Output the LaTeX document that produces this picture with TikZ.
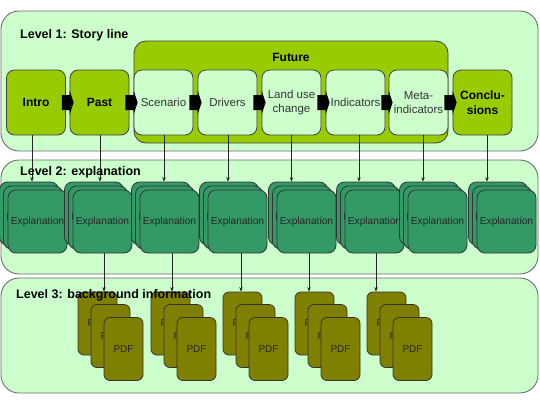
\documentclass[tikz,border=0pt]{standalone}
\usepackage{fontspec}
\setmainfont{Liberation Sans}
\usetikzlibrary{calc,arrows.meta}
\definecolor{lightg}{HTML}{CCFFCC}
\definecolor{limeg}{HTML}{99CC00}
\definecolor{seag}{HTML}{339966}
\definecolor{olivebox}{HTML}{808000}
\definecolor{framegray}{HTML}{6E6E6E}
\newcommand{\blockarr}[2]{\fill[black] ($(#1.east)+(-4,-7.5)$) -- ($(#2.west)+(0,-7.5)$) -- ($(#2.west)+(0,-12)$) -- ($(#2.west)+(4,0)$) -- ($(#2.west)+(0,12)$) -- ($(#2.west)+(0,7.5)$) -- ($(#1.east)+(-4,7.5)$) -- cycle;}
\begin{document}
\begin{tikzpicture}[x=1pt,y=-1pt,
  levelbox/.style={draw=framegray, line width=0.9pt, fill=lightg, rounded corners=18pt, inner sep=0pt},
  futurebox/.style={draw=black!75, line width=0.8pt, fill=limeg, rounded corners=12pt, inner sep=0pt},
  storybox/.style={draw=black!75, line width=0.8pt, rounded corners=8pt, inner sep=0pt, minimum width=59pt, minimum height=65pt, align=center, font=\fontsize{11.5}{14}\selectfont},
  darkstory/.style={storybox, fill=limeg, font=\bfseries\fontsize{12}{15}\selectfont, text=black},
  lightstory/.style={storybox, fill=lightg, text=black!80},
  expl/.style={draw=black!80, line width=0.8pt, fill=seag, rounded corners=8pt, inner sep=0pt, minimum width=59pt, minimum height=63pt, font=\fontsize{10.2}{12}\selectfont, text=black!85},
  pdfbox/.style={draw=black!80, line width=0.8pt, fill=olivebox, rounded corners=6pt, inner sep=0pt, minimum width=39pt, minimum height=63pt, font=\fontsize{10}{12}\selectfont, text=black!85},
  conn/.style={draw=black!85, line width=0.6pt, -{Stealth[length=4.5pt,width=3.5pt]}},
  lvllabel/.style={anchor=west, inner sep=0pt, font=\bfseries\fontsize{12.5}{14}\selectfont}
]
\useasboundingbox (0,0) rectangle (540,405);
\fill[white] (0,0) rectangle (540,405);

% level frames
\node[levelbox, minimum width=537pt, minimum height=140pt] (lvl1) at (269.5,81) {};
\node[levelbox, minimum width=537pt, minimum height=114pt] (lvl2) at (269.5,217) {};
\node[levelbox, minimum width=537pt, minimum height=115pt] (lvl3) at (269.5,335.5) {};

% future frame
\node[futurebox, minimum width=314pt, minimum height=102pt] (future) at (291,92) {};
\node[inner sep=0pt, font=\bfseries\fontsize{12}{14}\selectfont] (futurelbl) at (291,57) {Future};

% story line boxes
\node[darkstory] (intro) at (36,102.5) {Intro};
\node[darkstory] (past) at (99.5,102.5) {Past};
\node[lightstory] (scen) at (163.5,102.5) {Scenario};
\node[lightstory] (drv) at (227.5,102.5) {Drivers};
\node[lightstory] (land) at (291.5,102.5) {Land use\\change};
\node[lightstory] (ind) at (355.5,102.5) {Indicators};
\node[lightstory] (meta) at (418.5,102.5) {Meta-\\indicators};
\node[darkstory] (concl) at (482.5,102.5) {Conclu-\\sions};

\blockarr{intro}{past}
\blockarr{past}{scen}
\blockarr{scen}{drv}
\blockarr{drv}{land}
\blockarr{land}{ind}
\blockarr{ind}{meta}
\blockarr{meta}{concl}

% explanation stacks
\foreach \L [count=\i] in {8,73,140,208,277,345,408,477} {
  \node[expl] (e\i-c) at (\L+21,213.5) {Explanation};
  \node[expl] (e\i-b) at (\L+25,217.5) {Explanation};
  \node[expl] (e\i-a) at (\L+29.5,221.5) {Explanation};
}

% level 1 -> level 2
\draw[conn] ([xshift=-4pt]intro.south) -- ([xshift=-4pt]intro.south |- e1-c.north);
\draw[conn] ([xshift=0.5pt]past.south) -- ([xshift=0.5pt]past.south |- e2-c.north);
\draw[conn] ([xshift=0.5pt]scen.south) -- ([xshift=0.5pt]scen.south |- e3-c.north);
\draw[conn] ([xshift=0.5pt]drv.south) -- ([xshift=0.5pt]drv.south |- e4-c.north);
\draw[conn] (land.south) -- (land.south |- e5-c.north);
\draw[conn] ([xshift=3.5pt]ind.south) -- ([xshift=3.5pt]ind.south |- e6-c.north);
\draw[conn] ([xshift=4.5pt]meta.south) -- ([xshift=4.5pt]meta.south |- e7-c.north);
\draw[conn] ([xshift=4.5pt]concl.south) -- ([xshift=4.5pt]concl.south |- e8-c.north);

% PDF stacks
\foreach \X [count=\j] in {78,151,223,295,367} {
  \node[pdfbox] (p\j-c) at (\X+19.5,323.5) {PDF};
  \node[pdfbox] (p\j-b) at (\X+32.5,336) {PDF};
  \node[pdfbox] (p\j-a) at (\X+45.5,349) {PDF};
}

% level 2 -> level 3
\draw[conn] ([xshift=1.5pt]e2-a.south) -- ([xshift=1.5pt]e2-a.south |- p1-c.north);
\draw[conn] ([xshift=2.5pt]e3-a.south) -- ([xshift=2.5pt]e3-a.south |- p2-c.north);
\draw[conn] ([xshift=3.5pt]e4-a.south) -- ([xshift=3.5pt]e4-a.south |- p3-c.north);
\draw[conn] ([xshift=2.5pt]e5-a.south) -- ([xshift=2.5pt]e5-a.south |- p4-c.north);
\draw[conn] ([xshift=1.5pt]e6-a.south) -- ([xshift=1.5pt]e6-a.south |- p5-c.north);

% level labels
\node[lvllabel] (l1) at (20,35) {Level 1: Story line};
\node[lvllabel] (l2) at (20,172) {Level 2: explanation};
\node[lvllabel] (l3) at (16,295) {Level 3: background information};
\end{tikzpicture}
\end{document}
